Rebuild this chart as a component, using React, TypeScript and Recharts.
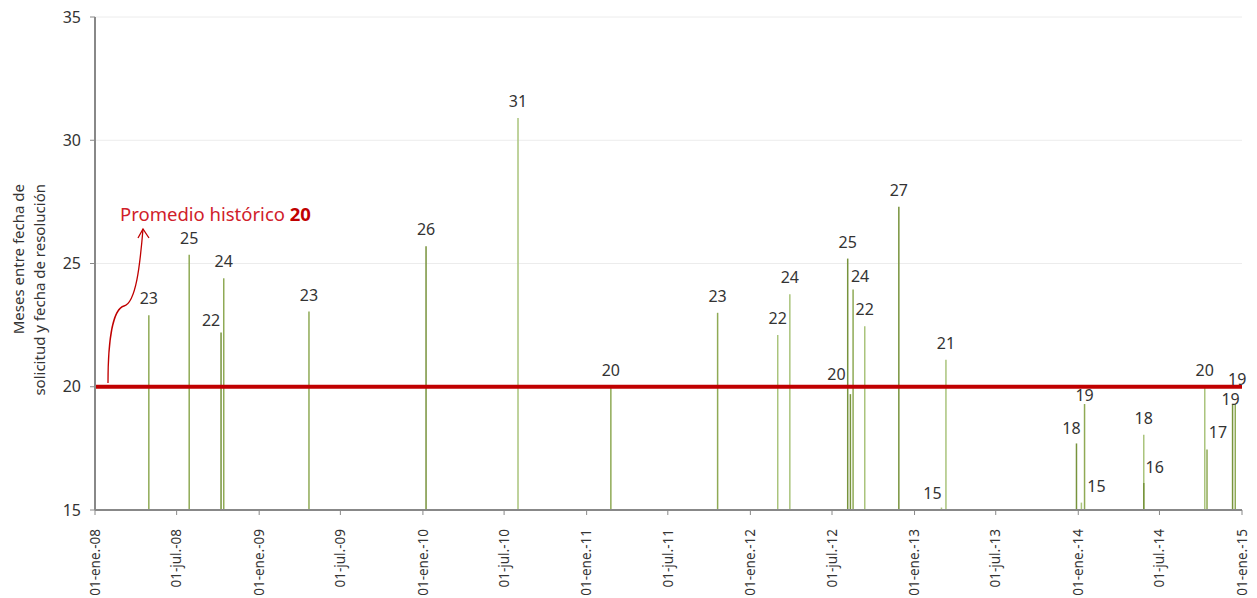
import React from 'react';
import { ComposedChart, XAxis, YAxis, CartesianGrid, ReferenceLine, Scatter } from 'recharts';

// ---- data ----
const requestDates = [
  '2008-04-30', '2008-07-29', '2008-10-08', '2008-10-14', '2009-04-22', '2010-01-08',
  '2010-08-01', '2011-02-24', '2011-10-20', '2012-03-02', '2012-03-29', '2012-08-05',
  '2012-08-11', '2012-08-17', '2012-09-12', '2012-11-27', '2013-03-02', '2013-03-12',
  '2013-12-28', '2014-01-08', '2014-01-15', '2014-05-27', '2014-05-27', '2014-10-10',
  '2014-10-15', '2014-12-11', '2014-12-17',
];
const monthsToResolution = [
  22.9, 25.35, 22.2, 24.4, 23.05, 25.7,
  30.9, 20.0, 23.0, 22.1, 23.75, 25.2,
  19.7, 23.95, 22.45, 27.3, 15.1, 21.1,
  17.7, 15.3, 19.3, 18.05, 16.1, 20.0,
  17.45, 19.3, 19.3,
];
const xTickDates = [
  '2008-01-01', '2008-07-01', '2009-01-01', '2009-07-01', '2010-01-01', '2010-07-01',
  '2011-01-01', '2011-07-01', '2012-01-01', '2012-07-01', '2013-01-01', '2013-07-01',
  '2014-01-01', '2014-07-01', '2015-01-01',
];
const yTicks = [15, 20, 25, 30, 35];
const historicalAverage = 20;
const monthAbbr: Record<string, string> = { '01': 'ene.', '07': 'jul.' };

// ---- styling (kept apart from data) ----
const DARK = '#77933C';
const MID = '#8FAA55';
const LIGHT = '#AAC47C';
const barShades = [
  MID, MID, DARK, MID, MID, DARK, LIGHT, MID, MID, LIGHT, LIGHT, DARK,
  DARK, MID, LIGHT, DARK, LIGHT, LIGHT, DARK, LIGHT, MID, LIGHT, DARK, LIGHT,
  MID, DARK, MID,
];
const labelNudge: Record<number, [number, number]> = {
  2: [-10, 4], 12: [-14, -3], 13: [7, 4], 16: [-9, 2], 18: [-5, 2], 19: [15, 0],
  20: [0, 8], 22: [11, 1], 24: [11, -1], 25: [-2, 12], 26: [2, -8],
};

const toTime = (s: string) => Date.parse(s + 'T00:00:00Z');
const points = requestDates.map((d, i) => ({ t: toTime(d), v: monthsToResolution[i], i }));
const xTicks = xTickDates.map(toTime);

const FONT = '"Noto Sans", "Open Sans", sans-serif';

const formatDate = (t: number) => {
  const d = new Date(t);
  const m = String(d.getUTCMonth() + 1).padStart(2, '0');
  const yy = String(d.getUTCFullYear()).slice(2);
  return `01-${monthAbbr[m] ?? m}-${yy}`;
};

const XTick = (props: any) => {
  const { x, y, payload } = props;
  return (
    <text
      transform={`translate(${x},${y + 12}) rotate(-90)`}
      textAnchor="end"
      dy="0.35em"
      fontSize={13.5}
      fontFamily={FONT}
      fill="#333"
    >
      {formatDate(payload.value)}
    </text>
  );
};

const ValueLabel = (props: any) => {
  const { cx, cy, payload } = props;
  if (cx == null || cy == null) return null;
  const [dx, dy] = labelNudge[payload.i] ?? [0, 0];
  return (
    <text
      x={cx + dx}
      y={cy - 11 + dy}
      textAnchor="middle"
      fontSize={16}
      fontFamily={FONT}
      fill="#333"
    >
      {Math.round(payload.v)}
    </text>
  );
};

export default function App() {
  return (
    <div style={{ position: 'absolute', left: 0, top: 0, width: 1257, height: 598, background: '#fff' }}>
      <ComposedChart
        width={1257}
        height={598}
        data={points}
        margin={{ top: 17, right: 15, bottom: 0, left: 0 }}
      >
        <CartesianGrid vertical={false} stroke="#ececec" strokeWidth={1} />
        <XAxis
          dataKey="t"
          type="number"
          domain={[xTicks[0], xTicks[xTicks.length - 1]]}
          ticks={xTicks}
          tick={<XTick />}
          height={88}
          tickSize={5}
          axisLine={{ stroke: '#888', strokeWidth: 2 }}
          tickLine={{ stroke: '#888' }}
          interval={0}
        />
        <YAxis
          type="number"
          domain={[15, 35]}
          ticks={yTicks}
          width={95}
          tickSize={5}
          tickMargin={9}
          axisLine={{ stroke: '#888', strokeWidth: 2 }}
          tickLine={{ stroke: '#888' }}
          tick={{ fontSize: 16, fontFamily: FONT, fill: '#333' }}
        />
        {points.map((p) => (
          <ReferenceLine
            key={`bar-${p.i}`}
            segment={[{ x: p.t, y: 15 }, { x: p.t, y: p.v }]}
            stroke={barShades[p.i]}
            strokeWidth={1.5}
            ifOverflow="visible"
          />
        ))}
        <ReferenceLine y={historicalAverage} stroke="#C00000" strokeWidth={4} ifOverflow="visible" />
        <Scatter dataKey="v" data={points} shape={<ValueLabel />} isAnimationActive={false} />
      </ComposedChart>
      <svg
        width={1257}
        height={598}
        style={{ position: 'absolute', left: 0, top: 0, pointerEvents: 'none' }}
      >
        <text
          transform="translate(24,184) rotate(-90)"
          textAnchor="end"
          fontSize={15}
          fontFamily={FONT}
          fill="#333"
        >
          Meses entre fecha de
        </text>
        <text
          transform="translate(45,184) rotate(-90)"
          textAnchor="end"
          fontSize={15}
          fontFamily={FONT}
          fill="#333"
        >
          solicitud y fecha de resolución
        </text>
        <text x={120} y={221} fontSize={18.5} fontFamily={FONT} fill="#D0202A">
          Promedio histórico <tspan fontWeight="bold" fill="#C00000">{historicalAverage}</tspan>
        </text>
        <path
          d="M108,383 C108,340 113,309 124,306 C136,303 140,265 143,229"
          fill="none"
          stroke="#C00000"
          strokeWidth={1.3}
        />
        <path d="M138,238 L143,229 L149,238" fill="none" stroke="#C00000" strokeWidth={1.3} />
      </svg>
    </div>
  );
}
